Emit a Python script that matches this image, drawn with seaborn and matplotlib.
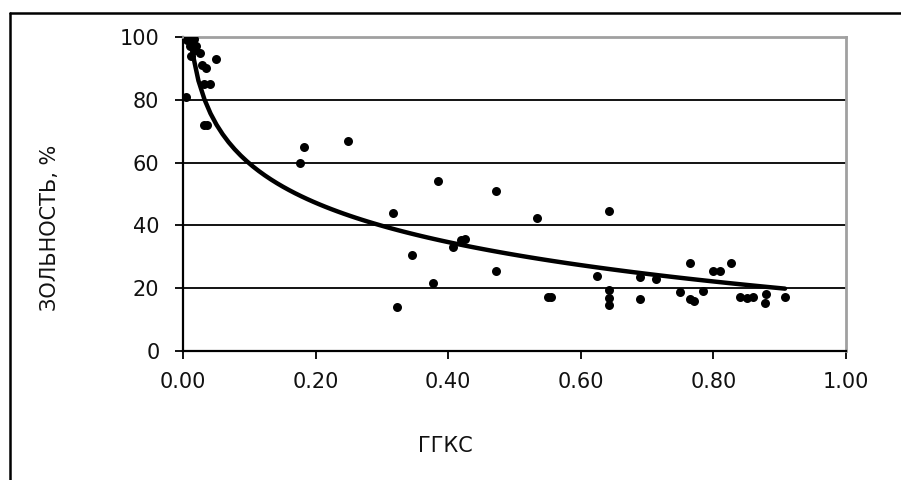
import matplotlib
matplotlib.use("Agg")
import matplotlib.pyplot as plt
import seaborn as sns
import numpy as np
import pandas as pd
from matplotlib.lines import Line2D

# Data
ggks = [0.005, 0.006, 0.008, 0.010, 0.014, 0.016, 0.018, 0.012, 0.020, 0.025,
        0.028, 0.035, 0.050, 0.040, 0.032,
        0.031, 0.036,
        0.176, 0.183, 0.249,
        0.317, 0.323, 0.345, 0.377, 0.385, 0.407, 0.420, 0.425,
        0.472, 0.472, 0.534, 0.550, 0.555,
        0.624, 0.642, 0.642, 0.642, 0.642, 0.690, 0.690, 0.713,
        0.750, 0.765, 0.765, 0.770, 0.785, 0.800, 0.810, 0.827,
        0.840, 0.850, 0.860, 0.878, 0.880, 0.908]
ash = [81, 99, 100, 97, 98, 99.5, 96, 94, 97, 95,
       91, 90, 93, 85, 85,
       72, 72,
       60, 65, 67,
       44, 14, 30.5, 21.7, 54, 33, 35.5, 35.7,
       51, 25.5, 42.5, 17.2, 17.2,
       24, 44.6, 19.5, 17, 14.5, 16.7, 23.6, 23,
       18.8, 28, 16.5, 15.8, 19, 25.5, 25.5, 28,
       17.2, 17, 17.2, 15.3, 18, 17.2]

x_ticks = [0.0, 0.2, 0.4, 0.6, 0.8, 1.0]
y_ticks = [0, 20, 40, 60, 80, 100]
x_label = "ГГКС"
y_label = "ЗОЛЬНОСТЬ, %"

df = pd.DataFrame({"ggks": ggks, "ash": ash})

sns.set_theme(style="white")
plt.rcParams["font.family"] = ["DejaVu Sans"]

W, H = 901, 480
fig = plt.figure(figsize=(W / 100, H / 100), dpi=100)
fig.patch.set_facecolor("white")
ax = fig.add_axes([183 / W, 129 / H, 663 / W, 314 / H])

sns.scatterplot(data=df, x="ggks", y="ash", ax=ax, color="black", s=42,
                edgecolor="black", linewidth=0, zorder=3)
sns.regplot(data=df, x="ggks", y="ash", ax=ax, logx=True, ci=None,
            scatter=False, line_kws=dict(color="black", lw=3.2, zorder=4))

ax.set_xlim(0, 1)
ax.set_ylim(0, 100)
ax.set_xticks(x_ticks)
ax.set_xticklabels([f"{v:.2f}" for v in x_ticks])
ax.set_yticks(y_ticks)
ax.set_yticklabels([str(v) for v in y_ticks])

ax.yaxis.grid(True, color="black", lw=1.3)
ax.xaxis.grid(False)
ax.set_axisbelow(True)

for side in ["top", "right"]:
    ax.spines[side].set_color("#a0a0a0")
    ax.spines[side].set_linewidth(2)
for side in ["left", "bottom"]:
    ax.spines[side].set_color("black")
    ax.spines[side].set_linewidth(1.6)

ax.tick_params(axis="both", which="major", bottom=True, left=True,
               direction="out", length=6, width=1.3, color="black",
               labelsize=15, labelcolor="#111111")
ax.tick_params(axis="x", pad=9)
ax.tick_params(axis="y", pad=11)

ax.set_xlabel(x_label, fontsize=15, color="#111111", va="center")
ax.xaxis.set_label_coords((445 - 183) / 663, (351 - 446) / 314)
ax.set_ylabel(y_label, fontsize=15, color="#111111", va="center")
ax.yaxis.set_label_coords((50 - 183) / 663, (351 - 228) / 314)

# outer chart border (top and left visible)
fig.add_artist(Line2D([10 / W, 1.0], [1 - 12.5 / H, 1 - 12.5 / H],
                      transform=fig.transFigure, color="black", lw=1.8))
fig.add_artist(Line2D([10 / W, 10 / W], [0.0, 1 - 12.5 / H],
                      transform=fig.transFigure, color="black", lw=1.8))

fig.savefig("out.png", dpi=100, facecolor="white")
